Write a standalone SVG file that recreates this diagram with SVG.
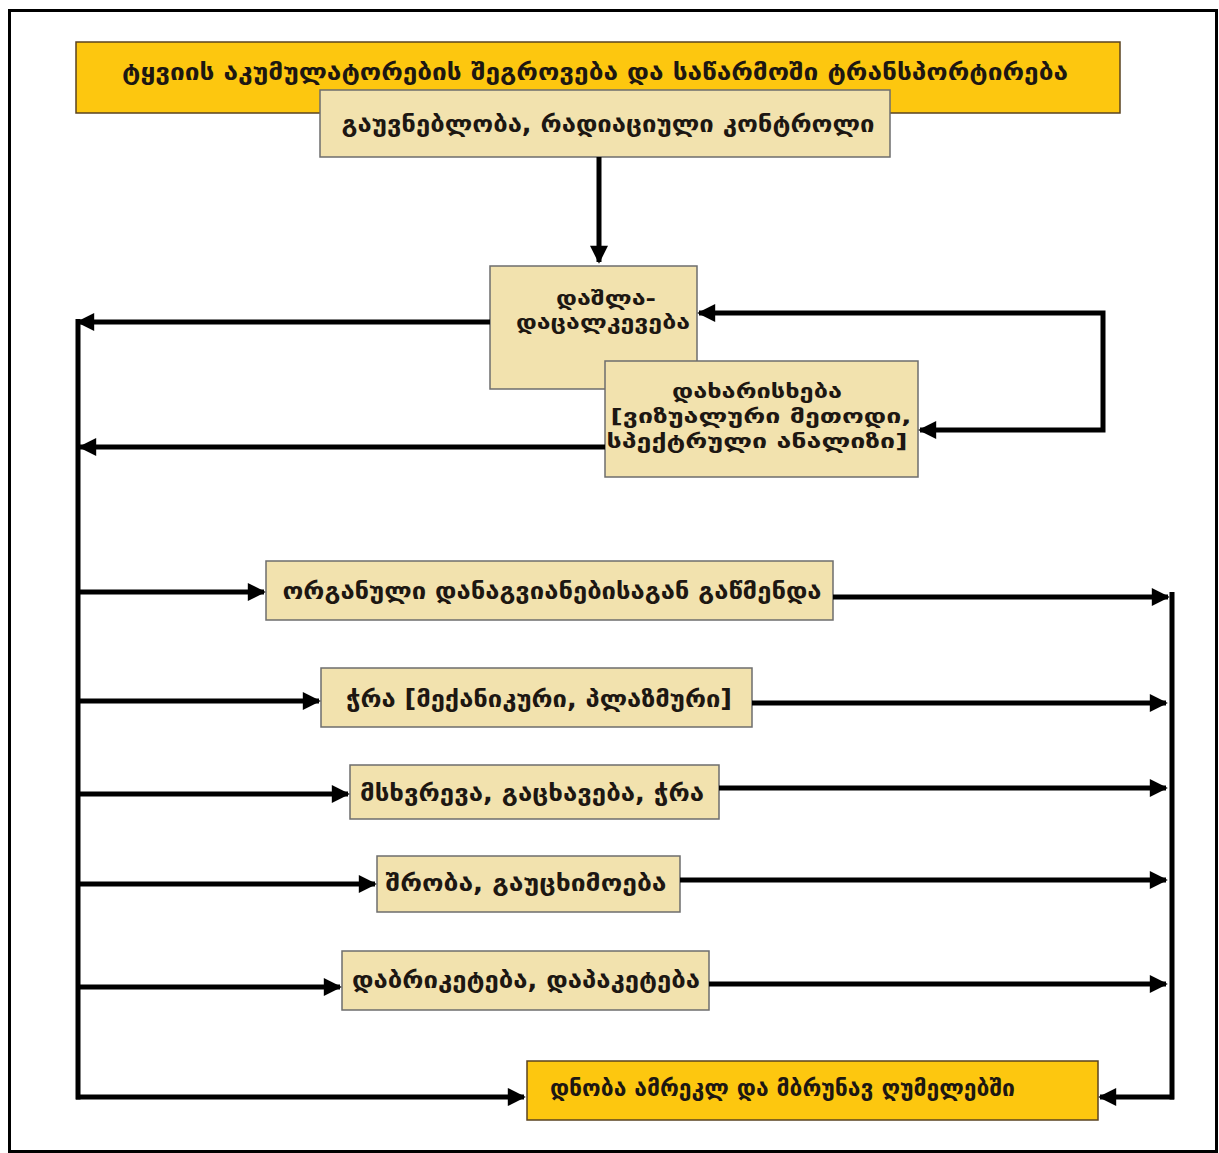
<svg xmlns="http://www.w3.org/2000/svg" width="1219" height="1153" viewBox="0 0 1219 1153">
<defs>
<marker id="ah" viewBox="0 0 10 10" refX="9" refY="5" markerWidth="5" markerHeight="3.6" markerUnits="strokeWidth" orient="auto-start-reverse">
<path d="M0,0 L10,5 L0,10 Z" fill="#000"/>
</marker>
<style>
.frame{fill:none;stroke:#000;stroke-width:3}
.yel{fill:#FDC70F;stroke:#5a4320;stroke-width:1.5}
.bei{fill:#F2E2AE;stroke:#6d6d6d;stroke-width:1.5}
.t{font-family:"DejaVu Sans","Noto Sans",sans-serif;font-weight:bold;font-size:24px;fill:#1d1712}
.m{font-size:20px}
.c{text-anchor:middle}
.ln{fill:none;stroke:#000;stroke-width:5}
.arr{fill:none;stroke:#000;stroke-width:5;marker-end:url(#ah)}
</style>
</defs>
<rect class="frame" x="9.5" y="10.5" width="1207" height="1141"/>

<g id="n-title">
<rect class="yel" x="76" y="42" width="1044" height="71"/>
<text class="t c" x="595" y="80" textLength="946" lengthAdjust="spacingAndGlyphs">ტყვიის აკუმულატორების შეგროვება და საწარმოში ტრანსპორტირება</text>
</g>
<g id="n-control">
<rect class="bei" x="320" y="90" width="570" height="67"/>
<text class="t c" x="608" y="132" textLength="533" lengthAdjust="spacingAndGlyphs">გაუვნებლობა, რადიაციული კონტროლი</text>
</g>
<g id="n-dismantle">
<rect class="bei" x="490" y="266" width="207" height="123"/>
<text class="t m c" x="606" y="305" textLength="100" lengthAdjust="spacingAndGlyphs">დაშლა-</text>
<text class="t m c" x="603" y="329" textLength="174" lengthAdjust="spacingAndGlyphs">დაცალკევება</text>
</g>
<g id="n-sort">
<rect class="bei" x="605" y="361" width="313" height="116"/>
<text class="t m c" x="757" y="398" textLength="170" lengthAdjust="spacingAndGlyphs">დახარისხება</text>
<text class="t m c" x="761" y="423" textLength="301" lengthAdjust="spacingAndGlyphs">[ვიზუალური მეთოდი,</text>
<text class="t m c" x="757" y="448" textLength="301" lengthAdjust="spacingAndGlyphs">სპექტრული ანალიზი]</text>
</g>
<g id="n-clean">
<rect class="bei" x="266" y="561" width="567" height="59"/>
<text class="t c" x="552" y="599" textLength="539" lengthAdjust="spacingAndGlyphs">ორგანული დანაგვიანებისაგან გაწმენდა</text>
</g>
<g id="n-cut">
<rect class="bei" x="321" y="668" width="431" height="59"/>
<text class="t c" x="539" y="707" textLength="386" lengthAdjust="spacingAndGlyphs">ჭრა [მექანიკური, პლაზმური]</text>
</g>
<g id="n-crush">
<rect class="bei" x="350" y="765" width="369" height="54"/>
<text class="t c" x="532" y="801" textLength="344" lengthAdjust="spacingAndGlyphs">მსხვრევა, გაცხავება, ჭრა</text>
</g>
<g id="n-dry">
<rect class="bei" x="377" y="856" width="303" height="56"/>
<text class="t c" x="526" y="891" textLength="281" lengthAdjust="spacingAndGlyphs">შრობა, გაუცხიმოება</text>
</g>
<g id="n-brick">
<rect class="bei" x="342" y="951" width="367" height="59"/>
<text class="t c" x="526" y="988" textLength="348" lengthAdjust="spacingAndGlyphs">დაბრიკეტება, დაპაკეტება</text>
</g>
<g id="n-melt">
<rect class="yel" x="527" y="1061" width="571" height="59"/>
<text class="t" x="550" y="1096" textLength="465" lengthAdjust="spacingAndGlyphs">დნობა ამრეკლ და მბრუნავ ღუმელებში</text>
</g>

<g id="connectors">
<path class="arr" d="M599,157 V262"/>
<path class="arr" d="M490,322 H78"/>
<path class="arr" d="M605,447 H80"/>
<path class="arr" style="marker-start:url(#ah)" d="M920,430 H1103 V313 H699"/>
<path class="ln" d="M78,319 V1099.5"/>
<path class="arr" d="M78,592 H264"/>
<path class="arr" d="M78,701 H319"/>
<path class="arr" d="M78,794 H348"/>
<path class="arr" d="M78,884 H375"/>
<path class="arr" d="M78,987 H340"/>
<path class="arr" d="M76,1097 H524"/>
<path class="arr" d="M833,597 H1168"/>
<path class="arr" d="M752,703 H1166"/>
<path class="arr" d="M719,788 H1166"/>
<path class="arr" d="M680,880 H1166"/>
<path class="arr" d="M709,984 H1166"/>
<path class="ln" d="M1172,592 V1099.5"/>
<path class="arr" d="M1174,1097 H1100"/>
</g>
</svg>
